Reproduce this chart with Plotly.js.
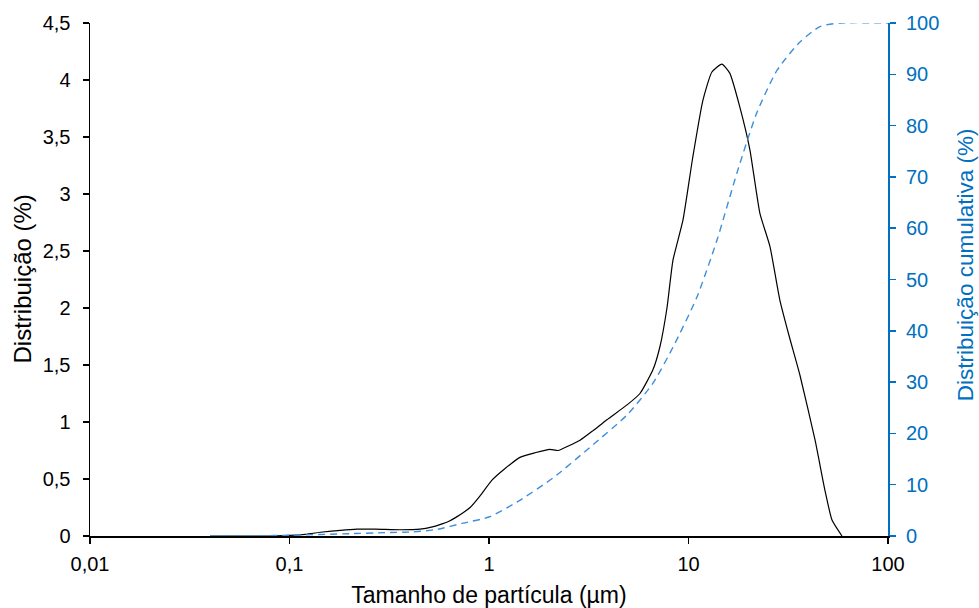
<!DOCTYPE html>
<html>
<head>
<meta charset="utf-8">
<script src="https://cdn.plot.ly/plotly-3.0.1.min.js"></script>
<style>html,body{margin:0;padding:0;background:#fff}#chart{width:979px;height:608px}</style>
</head>
<body>
<div id="chart"></div>
<script>
// Particle size (µm) and distribution (%)
const sizeDist = [0.04, 0.06, 0.08, 0.1, 0.12, 0.147, 0.18, 0.218, 0.27, 0.358, 0.451, 0.52, 0.567, 0.63, 0.692, 0.804, 0.9, 1.035, 1.2, 1.43, 1.7, 2.02, 2.22, 2.5, 2.86, 3.3, 3.9, 4.92, 5.71, 6.64, 7.19, 7.8, 8.36, 9.38, 10.5, 11.8, 13.1, 14.7, 16.1, 18.1, 20.3, 22.8, 25.6, 28.7, 32, 36.2, 43.1, 48.3, 52.4, 58.8];
const distribution = [0, 0, 0, 0.005, 0.015, 0.035, 0.05, 0.06, 0.06, 0.055, 0.06, 0.08, 0.1, 0.13, 0.17, 0.25, 0.35, 0.49, 0.59, 0.69, 0.73, 0.76, 0.75, 0.79, 0.84, 0.92, 1.02, 1.15, 1.25, 1.46, 1.66, 2.0, 2.42, 2.77, 3.32, 3.82, 4.07, 4.14, 4.06, 3.76, 3.39, 2.83, 2.54, 2.07, 1.75, 1.41, 0.84, 0.4, 0.14, 0];

// Particle size (µm) and cumulative distribution (%)
const sizeCum = [0.04, 0.07, 0.1, 0.2, 0.3, 0.416, 0.55, 0.741, 1.0, 1.38, 2.09, 3.21, 4.92, 6.64, 8.36, 11.0, 13.9, 17.5, 22.0, 27.8, 36.2, 45.6, 57.4, 100];
const cumulative = [0, 0.05, 0.15, 0.45, 0.65, 0.8, 1.3, 2.5, 3.7, 6.6, 11.3, 17.3, 23.6, 29.8, 36.8, 46.5, 57.7, 70.8, 82.5, 90.8, 96.3, 99.3, 100, 100];

const xTickVals = [0.01, 0.1, 1, 10, 100];
const xTickText = ['0,01', '0,1', '1', '10', '100'];
const yTickVals = [0, 0.5, 1, 1.5, 2, 2.5, 3, 3.5, 4, 4.5];
const yTickText = ['0', '0,5', '1', '1,5', '2', '2,5', '3', '3,5', '4', '4,5'];
const y2TickVals = [0, 10, 20, 30, 40, 50, 60, 70, 80, 90, 100];

const font = 'Liberation Sans, Arial, sans-serif';
const blue = '#0070C0';

const traces = [
  {x: sizeDist, y: distribution, type: 'scatter', mode: 'lines',
   line: {color: '#000000', width: 1.2, shape: 'spline', smoothing: 0.5}, yaxis: 'y', showlegend: false},
  {x: sizeCum, y: cumulative, type: 'scatter', mode: 'lines',
   line: {color: '#3D8FDB', width: 1.4, dash: '7px,5px', shape: 'spline', smoothing: 0.6}, yaxis: 'y2', showlegend: false}
];

const layout = {
  width: 979, height: 608,
  margin: {l: 90, r: 91, t: 23, b: 72},
  paper_bgcolor: '#ffffff', plot_bgcolor: '#ffffff',
  font: {family: font, size: 20, color: '#000'},
  xaxis: {
    type: 'log', range: [-2, 2],
    tickvals: xTickVals, ticktext: xTickText,
    showgrid: false, zeroline: false,
    showline: true, linecolor: '#000', linewidth: 1.5,
    ticks: 'outside', ticklen: 6, tickcolor: '#000', tickwidth: 1.5,
    ticklabelstandoff: 3,
    tickfont: {family: font, size: 20, color: '#000'},
    title: {text: 'Tamanho de partícula (µm)', font: {family: font, size: 23, color: '#000'}, standoff: 13}
  },
  yaxis: {
    range: [0, 4.5],
    tickvals: yTickVals, ticktext: yTickText,
    showgrid: false, zeroline: false,
    showline: true, linecolor: '#000', linewidth: 1.5,
    ticks: 'outside', ticklen: 6, tickcolor: '#000', tickwidth: 1.5,
    ticklabelstandoff: 8,
    tickfont: {family: font, size: 20, color: '#000'}
  },
  yaxis2: {
    overlaying: 'y', side: 'right',
    range: [0, 100],
    tickvals: y2TickVals,
    showgrid: false, zeroline: false,
    showline: true, linecolor: blue, linewidth: 2,
    ticks: 'outside', ticklen: 6, tickcolor: blue, tickwidth: 1.5,
    ticklabelstandoff: 6,
    tickfont: {family: font, size: 20, color: blue}
  },
  annotations: [
    {text: 'Distribuição (%)', xref: 'paper', yref: 'paper', x: -0.0852, y: 0.5,
     xanchor: 'center', yanchor: 'middle', textangle: -90, showarrow: false,
     font: {family: font, size: 24, color: '#000'}},
    {text: 'Distribuição cumulativa (%)', xref: 'paper', yref: 'paper', x: 1.0965, y: 0.528,
     xanchor: 'center', yanchor: 'middle', textangle: -90, showarrow: false,
     font: {family: font, size: 22.5, color: blue}}
  ]
};

Plotly.newPlot('chart', traces, layout, {displayModeBar: false, staticPlot: true});
</script>
</body>
</html>
